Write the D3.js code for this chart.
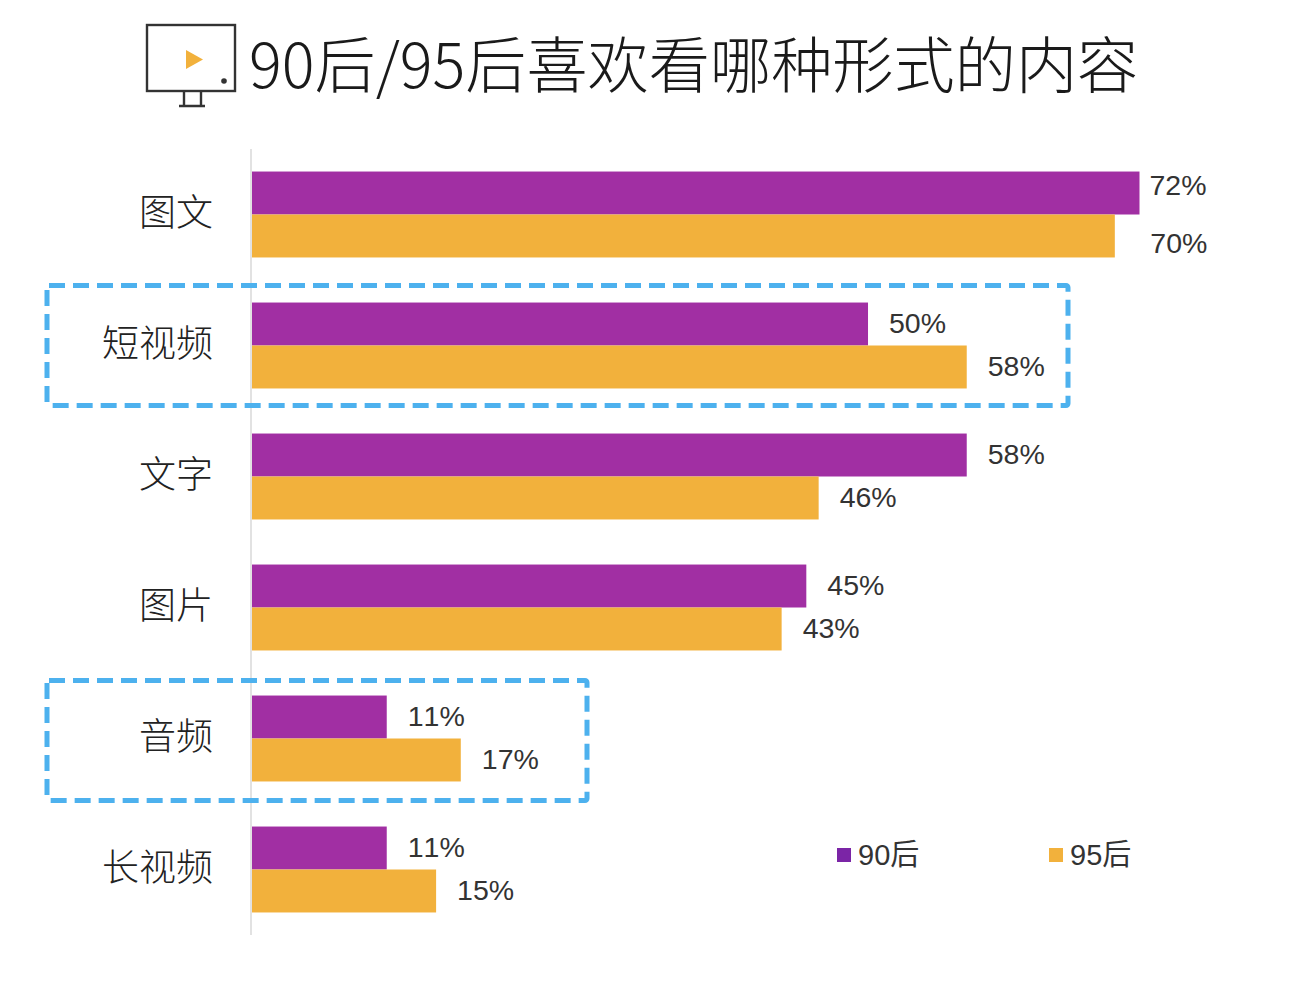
<!DOCTYPE html>
<html>
<head>
<meta charset="utf-8">
<script src="https://cdn.jsdelivr.net/npm/d3@7"></script>
<style>
  body { margin: 0; background: #fff; }
  text { font-family: "Liberation Sans", "Noto Sans CJK SC", sans-serif; fill: #333; font-kerning: none; }
</style>
</head>
<body>
<div id="chart"></div>
<script>
const categories = ['图文', '短视频', '文字', '图片', '音频', '长视频'];
const seriesNames = ['90后', '95后'];
const values90 = [72, 50, 58, 45, 11, 11];
const values95 = [70, 58, 46, 43, 17, 15];
const highlighted = ['短视频', '音频'];
const titleText = '90后/95后喜欢看哪种形式的内容';

const purple = '#a12fa3';
const orange = '#f2b13c';
const blue = '#4db1ee';

const svg = d3.select('#chart').append('svg')
  .attr('width', 1312)
  .attr('height', 982)
  .style('display', 'block');

const x = d3.scaleLinear().domain([0, 72]).range([251, 1139.5]);
const y = d3.scaleBand().domain(categories).range([149, 935])
  .paddingInner(0.344).paddingOuter(0.172);
const inner = d3.scaleBand().domain(seriesNames).range([0, y.bandwidth()]);
const color = d3.scaleOrdinal().domain(seriesNames).range([purple, orange]);

// title + tv icon
svg.append('text')
  .attr('x', 249)
  .attr('y', 88)
  .style('font-family', '"Noto Sans CJK SC", sans-serif')
  .style('font-size', '61.2px')
  .style('font-weight', 300)
  .style('fill', '#1a1a1a')
  .text(titleText);

const icon = svg.append('g').attr('fill', 'none').attr('stroke', '#333').attr('stroke-width', 2.4);
icon.append('rect').attr('x', 147).attr('y', 25).attr('width', 88).attr('height', 66);
icon.append('path').attr('d', 'M184 91V106M201 91V106M179 106H205');
icon.append('circle').attr('cx', 224).attr('cy', 81).attr('r', 2.8).attr('fill', '#333').attr('stroke', 'none');
icon.append('path').attr('d', 'M186 50L203 59.5L186 69Z').attr('fill', orange).attr('stroke', 'none');

// axis line, no ticks
svg.append('line')
  .attr('x1', x(0)).attr('x2', x(0))
  .attr('y1', 149).attr('y2', 935)
  .attr('stroke', '#d9d9d9')
  .attr('stroke-width', 1.5);

const rows = categories.map((c, i) => ({ cat: c, vals: [values90[i], values95[i]] }));

const group = svg.selectAll('.row').data(rows).enter().append('g')
  .attr('class', 'row')
  .attr('transform', (d) => `translate(0,${y(d.cat)})`);

group.selectAll('rect')
  .data((d) => d.vals.map((v, i) => ({ name: seriesNames[i], v })))
  .enter().append('rect')
  .attr('x', x(0) + 1)
  .attr('y', (d) => inner(d.name))
  .attr('width', (d) => x(d.v) - x(0) - 1)
  .attr('height', inner.bandwidth())
  .attr('fill', (d) => color(d.name));

// labels in the first row were pushed around by hand in the original
const labelDx = (cat, name) => {
  if (cat !== '图文') return 21;
  return name === '90后' ? 10 : 35.5;
};
const labelDy = (cat, name) => {
  if (cat !== '图文') return -1.5;
  return name === '90后' ? -8 : 7;
};

group.selectAll('.val')
  .data((d) => d.vals.map((v, i) => ({ cat: d.cat, name: seriesNames[i], v })))
  .enter().append('text')
  .attr('class', 'val')
  .attr('x', (d) => x(d.v) + labelDx(d.cat, d.name))
  .attr('y', (d) => inner(d.name) + inner.bandwidth() / 2 + labelDy(d.cat, d.name))
  .attr('dy', '0.36em')
  .style('font-size', '28.5px')
  .text((d) => `${d.v}%`);

group.append('text')
  .attr('x', 213)
  .attr('y', y.bandwidth() / 2 - 2)
  .attr('dy', '0.36em')
  .attr('text-anchor', 'end')
  .style('font-size', '37px')
  .style('font-family', '"Noto Sans CJK SC", sans-serif')
  .style('font-weight', 300)
  .style('fill', '#222')
  .text((d) => d.cat);

// dashed highlight boxes
const boxRight = { '短视频': 1068, '音频': 587 };
const boxLift = { '短视频': 17, '音频': 15 };
svg.selectAll('.box').data(highlighted).enter().append('rect')
  .attr('class', 'box')
  .attr('x', 47)
  .attr('y', (d) => y(d) - boxLift[d])
  .attr('width', (d) => boxRight[d] - 47)
  .attr('height', 120)
  .attr('rx', 2)
  .attr('fill', 'none')
  .attr('stroke', blue)
  .attr('stroke-width', 5)
  .attr('stroke-dasharray', '16 8');

// legend
const legendX = d3.scaleOrdinal().domain(seriesNames).range([837, 1049]);
const legendColor = d3.scaleOrdinal().domain(seriesNames).range(['#7b25a6', orange]);
const legend = svg.selectAll('.legend').data(seriesNames).enter().append('g')
  .attr('class', 'legend')
  .attr('transform', (d) => `translate(${legendX(d)},848)`);
legend.append('rect').attr('width', 14).attr('height', 14).attr('fill', (d) => legendColor(d));
legend.append('text')
  .attr('x', 21)
  .attr('y', 7)
  .attr('dy', '0.36em')
  .style('font-size', '29px')
  .text((d) => d);
</script>
</body>
</html>
